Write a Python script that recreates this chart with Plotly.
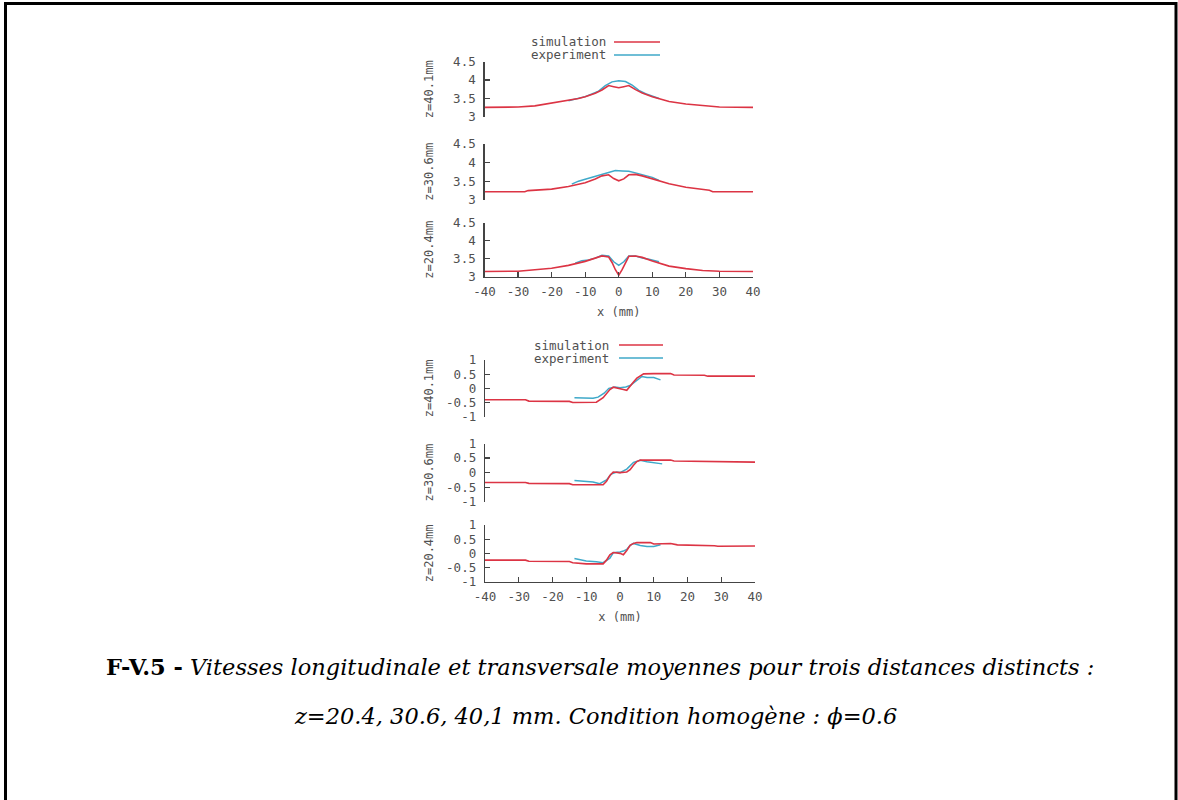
import plotly.graph_objects as go

# ---------------- data ----------------
x_ticks = [-40, -30, -20, -10, 0, 10, 20, 30, 40]
x_tick_labels = ["-40", "-30", "-20", "-10", "0", "10", "20", "30", "40"]

long_ticks = [3, 3.5, 4, 4.5]
long_tick_labels = ["3", "3.5", "4", "4.5"]
trans_ticks = [-1, -0.5, 0, 0.5, 1]
trans_tick_labels = ["-1", "-0.5", "0", "0.5", "1"]

panel_labels = ["z=40.1mm", "z=30.6mm", "z=20.4mm"]

# Longitudinal velocity
sim_x_long_401 = [-40, -30, -25, -20, -15, -12, -10, -7, -5, -3, -1.5, 0, 1.5, 3, 5, 7, 10, 12, 15, 20, 25, 30, 40]
sim_y_long_401 = [3.26, 3.27, 3.30, 3.37, 3.44, 3.50, 3.55, 3.64, 3.73, 3.85, 3.82, 3.79, 3.82, 3.85, 3.74, 3.65, 3.55, 3.49, 3.42, 3.35, 3.30, 3.27, 3.26]
exp_x_long_401 = [-15, -12, -10, -8, -6, -4, -2, 0, 2, 4, 6, 8, 10, 12]
exp_y_long_401 = [3.44, 3.50, 3.55, 3.62, 3.70, 3.85, 3.95, 3.98, 3.96, 3.86, 3.72, 3.63, 3.56, 3.50]

sim_x_long_306 = [-40, -28, -27, -20, -15, -10, -7, -5, -3, -1.5, 0, 1.5, 3, 5, 7, 10, 15, 20, 25, 27, 28, 40]
sim_y_long_306 = [3.22, 3.22, 3.25, 3.29, 3.36, 3.46, 3.56, 3.64, 3.67, 3.57, 3.51, 3.56, 3.67, 3.68, 3.64, 3.56, 3.43, 3.34, 3.28, 3.26, 3.22, 3.22]
exp_x_long_306 = [-14, -12, -10, -8, -5, -3, -1, 1, 3, 5, 8, 10, 12]
exp_y_long_306 = [3.42, 3.50, 3.55, 3.60, 3.67, 3.73, 3.78, 3.77, 3.76, 3.72, 3.66, 3.60, 3.52]

sim_x_long_204 = [-40, -30, -20, -15, -10, -7, -5, -3, -2, -1, 0, 1, 2, 3, 5, 7, 10, 15, 20, 25, 30, 40]
sim_y_long_204 = [3.15, 3.16, 3.24, 3.32, 3.43, 3.52, 3.58, 3.55, 3.40, 3.20, 3.05, 3.20, 3.40, 3.57, 3.58, 3.54, 3.44, 3.30, 3.23, 3.18, 3.16, 3.15]
exp_x_long_204 = [-13, -11, -9, -7, -5, -3, -1.5, 0, 1.5, 3, 5, 7, 9, 12]
exp_y_long_204 = [3.38, 3.45, 3.47, 3.52, 3.60, 3.58, 3.42, 3.32, 3.42, 3.58, 3.58, 3.52, 3.49, 3.42]

# Transversal velocity
sim_x_trans_401 = [-40, -28, -27, -15, -14, -7, -5, -4, -3, -2, 0, 1, 2, 3, 4, 5, 7, 10, 15, 16, 25, 26, 40]
sim_y_trans_401 = [-0.40, -0.40, -0.45, -0.46, -0.50, -0.49, -0.33, -0.18, -0.04, 0.04, 0.00, -0.04, -0.07, 0.06, 0.22, 0.36, 0.51, 0.52, 0.52, 0.47, 0.46, 0.43, 0.43]
exp_x_trans_401 = [-13.5, -8, -6.5, -4.7, -3.3, -1.5, 0, 1.7, 3, 5, 6.5, 8, 10, 12]
exp_y_trans_401 = [-0.33, -0.35, -0.31, -0.17, 0.00, 0.05, 0.02, 0.05, 0.10, 0.30, 0.42, 0.38, 0.38, 0.30]

sim_x_trans_306 = [-40, -28, -27, -15, -14, -5, -4, -3, -2, 0, 2, 3, 4, 5, 6, 10, 15, 16, 28, 29, 40]
sim_y_trans_306 = [-0.34, -0.34, -0.37, -0.38, -0.42, -0.42, -0.30, -0.10, 0.02, 0.00, 0.02, 0.10, 0.25, 0.38, 0.43, 0.43, 0.43, 0.40, 0.38, 0.36, 0.36]
exp_x_trans_306 = [-13.5, -8, -6, -4, -2.6, -1, 0, 2, 4, 6, 8, 10, 12.5]
exp_y_trans_306 = [-0.27, -0.32, -0.38, -0.25, -0.05, 0.02, 0.00, 0.12, 0.35, 0.42, 0.37, 0.35, 0.30]

sim_x_trans_204 = [-40, -28, -27, -15, -14, -10, -5, -4, -3, -2, 0, 1, 2, 3, 4, 5, 9, 10, 15, 17, 28, 29, 40]
sim_y_trans_204 = [-0.24, -0.24, -0.28, -0.29, -0.33, -0.37, -0.37, -0.24, -0.05, 0.03, 0.00, -0.05, 0.10, 0.28, 0.35, 0.38, 0.38, 0.33, 0.35, 0.30, 0.27, 0.25, 0.26]
exp_x_trans_204 = [-13.5, -10, -7, -5, -3, -2, 0, 1, 2, 3, 4, 6, 8, 10, 12]
exp_y_trans_204 = [-0.18, -0.27, -0.30, -0.33, -0.17, 0.02, 0.05, 0.08, 0.14, 0.28, 0.35, 0.28, 0.24, 0.24, 0.30]

caption_line1 = "<b>F-V.5 -</b> <i>Vitesses longitudinale et transversale moyennes pour trois distances distincts :</i>"
caption_line2 = "<i>z=20.4, 30.6, 40,1 mm. Condition homogène : ϕ=0.6</i>"

# ---------------- styling ----------------
W, H = 1178, 800
RED = "#dc3444"
CYAN = "#3fa9c9"
AXC = "#444444"
TXT = "#505050"
MONO = "DejaVu Sans Mono, Liberation Mono, monospace"

def py(px):
    return 1 - px / H

def pxx(px):
    return px / W

fig = go.Figure()

series = [
    ("x", "y", sim_x_long_401, sim_y_long_401, exp_x_long_401, exp_y_long_401),
    ("x", "y2", sim_x_long_306, sim_y_long_306, exp_x_long_306, exp_y_long_306),
    ("x", "y3", sim_x_long_204, sim_y_long_204, exp_x_long_204, exp_y_long_204),
    ("x2", "y4", sim_x_trans_401, sim_y_trans_401, exp_x_trans_401, exp_y_trans_401),
    ("x2", "y5", sim_x_trans_306, sim_y_trans_306, exp_x_trans_306, exp_y_trans_306),
    ("x2", "y6", sim_x_trans_204, sim_y_trans_204, exp_x_trans_204, exp_y_trans_204),
]
for xa, ya, sx, sy, ex, ey in series:
    fig.add_trace(go.Scatter(x=ex, y=ey, mode="lines", name="experiment",
                             line=dict(color=CYAN, width=1.5), xaxis=xa, yaxis=ya,
                             showlegend=False, hoverinfo="skip"))
    fig.add_trace(go.Scatter(x=sx, y=sy, mode="lines", name="simulation",
                             line=dict(color=RED, width=1.6), xaxis=xa, yaxis=ya,
                             showlegend=False, hoverinfo="skip"))

tickfont = dict(family=MONO, size=12.5, color=TXT)

def yaxis(dom_px, rng, tv, tt, anchor, title, standoff):
    return dict(domain=[py(dom_px[0]), py(dom_px[1])], range=rng, tickvals=tv, ticktext=tt,
                ticks="inside", ticklen=5, tickwidth=1.2, tickcolor=AXC,
                showline=True, linecolor=AXC, linewidth=1.3, showgrid=False, zeroline=False,
                anchor=anchor, tickfont=tickfont, ticklabelstandoff=5, automargin=False,
                title=dict(text=title, font=dict(family=MONO, size=12, color=TXT), standoff=standoff))

def xaxis(dom_px, anchor):
    return dict(domain=[pxx(dom_px[0]), pxx(dom_px[1])], range=[-40, 40],
                tickvals=x_ticks, ticktext=x_tick_labels,
                ticks="inside", ticklen=5, tickwidth=1.2, tickcolor=AXC,
                showline=True, linecolor=AXC, linewidth=1.3, showgrid=False, zeroline=False,
                anchor=anchor, tickfont=tickfont, ticklabelstandoff=3, automargin=False,
                title=dict(text="x (mm)", font=dict(family=MONO, size=12, color=TXT), standoff=9))

layout = dict(
    width=W, height=H, margin=dict(l=0, r=0, t=0, b=0, pad=0, autoexpand=False),
    paper_bgcolor="white", plot_bgcolor="rgba(0,0,0,0)",
    showlegend=False,
    xaxis=xaxis((484.5, 753), "y3"),
    xaxis2=xaxis((485, 755), "y6"),
    yaxis=yaxis((117, 61.5), [3, 4.5], long_ticks, long_tick_labels, "x", panel_labels[0], 17),
    yaxis2=yaxis((200, 143.5), [3, 4.5], long_ticks, long_tick_labels, "x", panel_labels[1], 17),
    yaxis3=yaxis((277, 222.5), [3, 4.5], long_ticks, long_tick_labels, "x", panel_labels[2], 17),
    yaxis4=yaxis((416.7, 360), [-1, 1], trans_ticks, trans_tick_labels, "x2", panel_labels[0], 10),
    yaxis5=yaxis((501.7, 443.5), [-1, 1], trans_ticks, trans_tick_labels, "x2", panel_labels[1], 10),
    yaxis6=yaxis((581.7, 525), [-1, 1], trans_ticks, trans_tick_labels, "x2", panel_labels[2], 10),
)
fig.update_layout(**layout)

# legends (text then sample line, gnuplot style)
annotations = []
shapes = []
for (ty_sim, ty_exp, lx0, lx1, tx) in [(42, 55, 614, 660, 608), (345, 358, 619, 663, 611)]:
    annotations.append(dict(text="simulation", x=pxx(tx), y=py(ty_sim), xref="paper", yref="paper",
                            xanchor="right", yanchor="middle", showarrow=False,
                            font=dict(family=MONO, size=12.5, color=TXT)))
    annotations.append(dict(text="experiment", x=pxx(tx), y=py(ty_exp), xref="paper", yref="paper",
                            xanchor="right", yanchor="middle", showarrow=False,
                            font=dict(family=MONO, size=12.5, color=TXT)))
    shapes.append(dict(type="line", xref="paper", yref="paper", x0=pxx(lx0), x1=pxx(lx1),
                       y0=py(ty_sim), y1=py(ty_sim), line=dict(color=RED, width=1.6)))
    shapes.append(dict(type="line", xref="paper", yref="paper", x0=pxx(lx0), x1=pxx(lx1),
                       y0=py(ty_exp), y1=py(ty_exp), line=dict(color=CYAN, width=1.5)))

# caption
cap_font = dict(family="DejaVu Serif, Liberation Serif, serif", size=22.5, color="black")
annotations.append(dict(text=caption_line1, x=pxx(600), y=py(667), xref="paper", yref="paper",
                        xanchor="center", yanchor="middle", showarrow=False, font=cap_font))
annotations.append(dict(text=caption_line2, x=pxx(595), y=py(716), xref="paper", yref="paper",
                        xanchor="center", yanchor="middle", showarrow=False, font=cap_font))

# page frame
shapes.append(dict(type="rect", xref="paper", yref="paper", x0=pxx(5.5), x1=pxx(1176),
                   y0=-0.05, y1=py(3.5), line=dict(color="black", width=3)))

fig.update_layout(annotations=annotations, shapes=shapes)
fig.write_html("out.html",
               config={"displayModeBar": False, "staticPlot": True},
               post_script="document.body.style.margin='0';document.body.style.padding='0';"
                           "document.body.style.overflow='hidden';")
